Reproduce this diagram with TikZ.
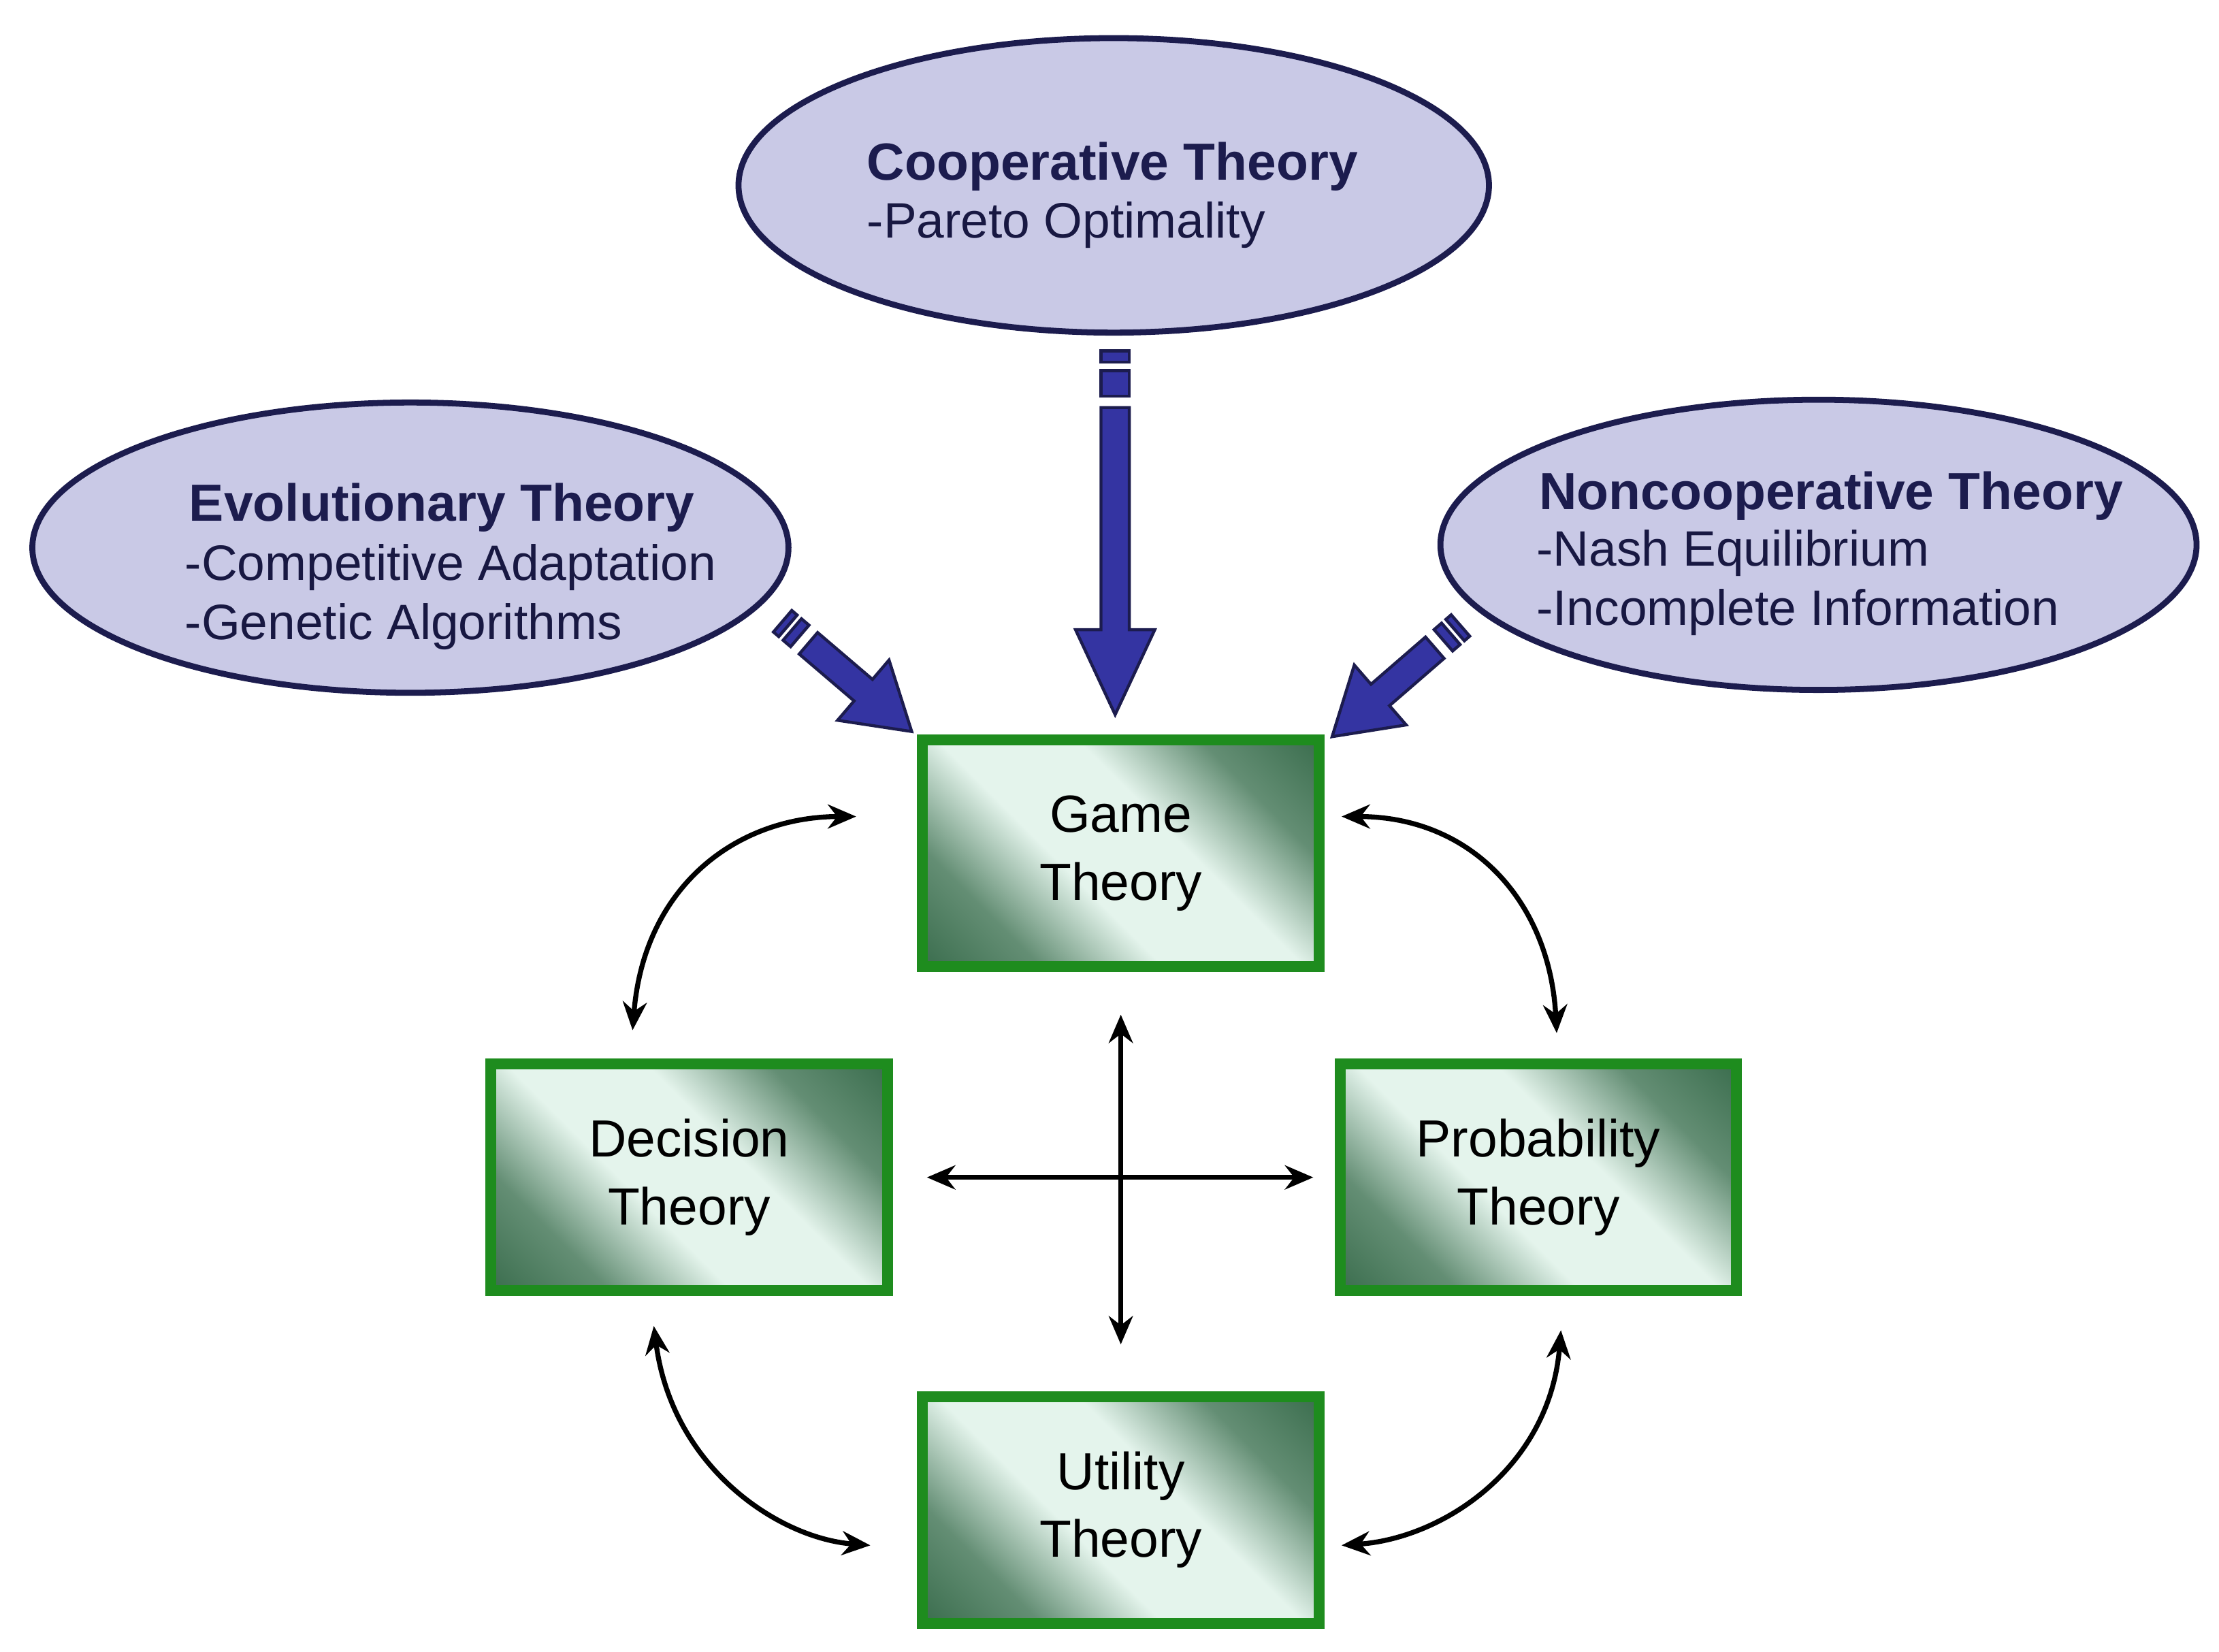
\documentclass[tikz,border=0pt]{standalone}
\usepackage{fontspec}
\setmainfont{Liberation Sans}
\usetikzlibrary{arrows.meta,shapes.geometric}
\definecolor{lav}{HTML}{C9C9E6}
\definecolor{navy}{HTML}{1C1C4E}
\definecolor{ablue}{HTML}{3434A2}
\definecolor{gborder}{HTML}{1E8C1E}
\definecolor{dg}{HTML}{0E4A24}
\definecolor{lg}{HTML}{E4F4EC}
\pgfdeclarehorizontalshading{boxsh}{100bp}{color(0bp)=(dg); color(28bp)=(dg!60!lg); color(42bp)=(lg); color(58bp)=(lg); color(72bp)=(dg!60!lg); color(100bp)=(dg)}
\tikzset{
  ell/.style={ellipse, draw=navy, line width=1.2pt, fill=lav, inner sep=0pt},
  box/.style={rectangle, draw=gborder, line width=2.2pt, shading=boxsh, shading angle=45, minimum width=2.8cm, minimum height=1.6cm, align=center, font=\fontsize{10.5}{13.6}\selectfont},
  ttl/.style={anchor=base west, text=navy, font=\fontsize{10.5}{12}\selectfont\bfseries, inner sep=0pt},
  sub/.style={anchor=base west, text=navy!85!black, font=\fontsize{10}{12}\selectfont, inner sep=0pt},
  link/.style={line width=1pt, {Stealth[length=0.2cm,width=0.17cm]}-{Stealth[length=0.2cm,width=0.17cm]}},
  fat/.style={fill=ablue, draw=navy, line width=0.6pt, line join=miter}
}
% block arrow along +x, length #1, head length #2, small tail segments #3,#4,#5
\newcommand{\blockarrow}[5]{%
  \fill[fat] (0,-10) rectangle (#3,10);
  \fill[fat] (#4,-10) rectangle (#5,10);
  \fill[fat] (#5+8,-10) -- (#1-#2,-10) -- (#1-#2,-28) -- (#1,0) -- (#1-#2,28) -- (#1-#2,10) -- (#5+8,10) -- cycle;
}
\begin{document}
\begin{tikzpicture}[x=0.01cm,y=0.01cm]
\useasboundingbox (0,0) rectangle (1568,1167);
% ellipses (y-up = 1167 - y)
\node[ell, minimum width=5.3cm, minimum height=2.08cm] (coop) at (787,1036) {};
\node[ell, minimum width=5.34cm, minimum height=2.05cm] (evo) at (290,780) {};
\node[ell, minimum width=5.34cm, minimum height=2.05cm] (nonc) at (1285,782) {};
\node[ttl] (coopt) at (612,1040) {Cooperative Theory};
\node[sub] (coops) at (612,999) {-Pareto Optimality};
\node[ttl] (evot) at (133,799) {Evolutionary Theory};
\node[sub] (evos1) at (130,757) {-Competitive Adaptation};
\node[sub] (evos2) at (130,715) {-Genetic Algorithms};
\node[ttl] (nonct) at (1087,807) {Noncooperative Theory};
\node[sub] (noncs1) at (1085,767) {-Nash Equilibrium};
\node[sub] (noncs2) at (1085,725) {-Incomplete Information};
% boxes
\node[box] (game) at (792,564) {Game\\Theory};
\node[box] (dec) at (487,335) {Decision\\Theory};
\node[box] (prob) at (1087,335) {Probability\\Theory};
\node[box] (util) at (792,100) {Utility\\Theory};
% blue block arrows
\begin{scope}[shift={(788,919)},rotate=-90]\blockarrow{257}{60}{8}{14}{32}\end{scope}
\begin{scope}[shift={(553,728)},rotate=-40.5]\blockarrow{120}{45}{5}{9}{16}\end{scope}
\begin{scope}[shift={(1032,725)},rotate=-139.1]\blockarrow{120}{45}{5}{9}{16}\end{scope}
% black connectors
\coordinate (gl) at (605,590);
\coordinate (dt) at (447,439);
\coordinate (gr) at (948,590);
\coordinate (pt) at (1100,437);
\coordinate (db) at (462,230);
\coordinate (ul) at (615,75);
\coordinate (pb) at (1103,227);
\coordinate (ur) at (948,75);
\draw[link] (dt) .. controls (455,540) and (520,590) .. (gl);
\draw[link] (gr) .. controls (1040,590) and (1095,530) .. (pt);
\draw[link] (db) .. controls (475,130) and (550,80) .. (ul);
\draw[link] (pb) .. controls (1095,130) and (1020,80) .. (ur);
\coordinate (vt) at (792,450);
\coordinate (vb) at (792,217);
\coordinate (hl) at (655,335);
\coordinate (hr) at (928,335);
\draw[link] (vt) -- (vb);
\draw[link] (hl) -- (hr);
\end{tikzpicture}
\end{document}
